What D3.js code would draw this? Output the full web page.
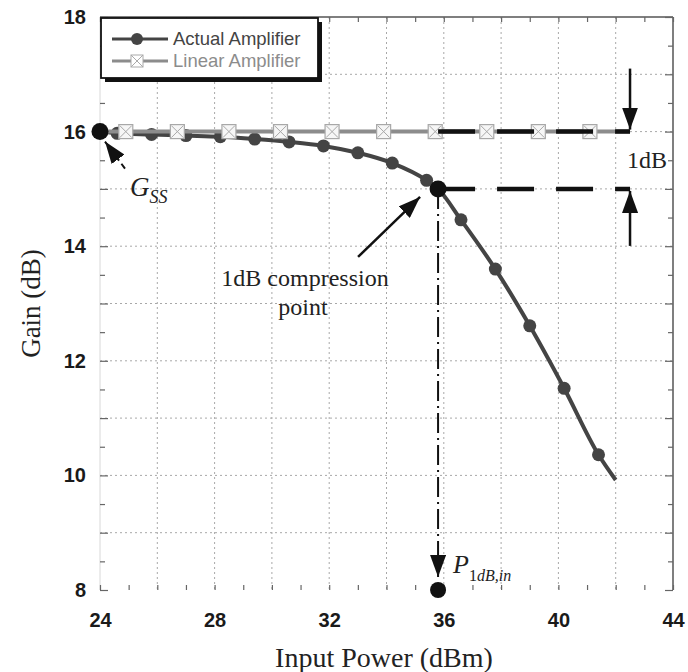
<!DOCTYPE html>
<html>
<head>
<meta charset="utf-8">
<script src="https://cdn.jsdelivr.net/npm/d3@7"></script>
<style>
  html, body { margin: 0; padding: 0; background: #fff; }
  svg { display: block; }
</style>
</head>
<body>
<svg id="chart" width="688" height="672"></svg>
<script>
// Amplifier gain versus input power: actual (compressing) vs ideal linear amplifier
const actualPower = [24.6, 25.8, 27.0, 28.2, 29.4, 30.6, 31.8, 33.0, 34.2, 35.4, 36.6, 37.8, 39.0, 40.2, 41.4];
const actualGain  = [15.97, 15.95, 15.93, 15.91, 15.87, 15.82, 15.75, 15.63, 15.45, 15.15, 14.46, 13.60, 12.61, 11.52, 10.36];
const actualLineStart = [24, 16.0];
const actualLineEnd   = [42.0, 9.92];

const linearPower = [24.9, 26.7, 28.5, 30.3, 32.1, 33.9, 35.7, 37.5, 39.3, 41.1];
const linearGain  = [16, 16, 16, 16, 16, 16, 16, 16, 16, 16];
const linearSpan  = [24, 42.5];

const smallSignalGain = 16;     // G_SS
const p1dBPower = 35.8;         // input 1 dB compression point
const p1dBGain = 15;
const refLineEnd = 42.5;

const xTickLabels = [24, 28, 32, 36, 40, 44];
const yTickLabels = [8, 10, 12, 14, 16, 18];
const xGridValues = [26, 28, 30, 32, 34, 36, 38, 40, 42];
const yGridValues = [9, 10, 11, 12, 13, 14, 15, 16, 17];

const svg = d3.select("#chart");
const x = d3.scaleLinear().domain([24, 44]).range([100, 673]);
const y = d3.scaleLinear().domain([8, 18]).range([590, 17]);

const serif = "'Liberation Serif', 'Times New Roman', serif";
const sans = "'Liberation Sans', Arial, sans-serif";

// arrowhead
const defs = svg.append("defs");
defs.append("marker").attr("id", "headBig")
  .attr("viewBox", "0 0 10 10").attr("refX", 10).attr("refY", 5)
  .attr("markerWidth", 22).attr("markerHeight", 16).attr("markerUnits", "userSpaceOnUse")
  .attr("orient", "auto").attr("preserveAspectRatio", "none")
  .append("path").attr("d", "M0,0 L10,5 L0,10 Z").attr("fill", "#111");

// grid
const grid = svg.append("g").attr("stroke", "#a8a8a8").attr("stroke-width", 1)
  .attr("stroke-dasharray", "2,3");
grid.selectAll(".vg").data(xGridValues).join("line")
  .attr("x1", d => x(d)).attr("x2", d => x(d)).attr("y1", y(18)).attr("y2", y(8));
grid.selectAll(".hg").data(yGridValues).join("line")
  .attr("x1", x(24)).attr("x2", x(44)).attr("y1", d => y(d)).attr("y2", d => y(d));

// frame
svg.append("line").attr("x1", x(24)).attr("x2", x(24)).attr("y1", y(18)).attr("y2", y(8))
  .attr("stroke", "#d8d8d8").attr("stroke-width", 1);
svg.append("line").attr("x1", x(24)).attr("x2", x(44)).attr("y1", y(18)).attr("y2", y(18))
  .attr("stroke", "#555").attr("stroke-width", 1.5);
svg.append("line").attr("x1", x(44)).attr("x2", x(44)).attr("y1", y(18)).attr("y2", y(8))
  .attr("stroke", "#555").attr("stroke-width", 1.5);

// inward ticks via d3 axes
const yTicksAll = d3.range(8, 18.01, 0.5);
const xTicksAll = d3.range(24, 44.01, 1);
const styleAxis = g => {
  g.select(".domain").remove();
  g.selectAll(".tick line").attr("stroke", "#666").attr("stroke-width", 1.2);
  g.selectAll("text").remove();
};
svg.append("g").attr("transform", `translate(${x(24)},0)`)
  .call(d3.axisRight(y).tickValues(yTicksAll).tickSize(6)).call(styleAxis)
  .selectAll(".tick line").attr("x2", d => Number.isInteger(d) ? 8 : 5);
svg.append("g").attr("transform", `translate(${x(44)},0)`)
  .call(d3.axisLeft(y).tickValues(yTicksAll).tickSize(6)).call(styleAxis)
  .selectAll(".tick line").attr("x2", d => Number.isInteger(d) ? -8 : -5);
svg.append("g").attr("transform", `translate(0,${y(8)})`)
  .call(d3.axisTop(x).tickValues(xTicksAll).tickSize(5)).call(styleAxis);
svg.append("g").attr("transform", `translate(0,${y(18)})`)
  .call(d3.axisBottom(x).tickValues(xTicksAll).tickSize(5)).call(styleAxis);

// tick labels
svg.append("g").attr("transform", `translate(${x(24)},0)`)
  .call(d3.axisLeft(y).tickValues(yTickLabels).tickSize(0).tickPadding(14).tickFormat(d3.format("d")))
  .call(g => g.select(".domain").remove())
  .selectAll("text").attr("font-family", sans).attr("font-weight", "bold")
  .attr("font-size", 20).attr("fill", "#1a1a1a");
svg.append("g").attr("transform", `translate(0,${y(8)})`)
  .call(d3.axisBottom(x).tickValues(xTickLabels).tickSize(0).tickPadding(23).tickFormat(d3.format("d")))
  .call(g => g.select(".domain").remove())
  .selectAll("text").attr("font-family", sans).attr("font-weight", "bold")
  .attr("font-size", 20).attr("fill", "#1a1a1a");

// axis titles
svg.append("text").attr("x", 384).attr("y", 667).attr("text-anchor", "middle")
  .attr("font-family", serif).attr("font-size", 28).attr("fill", "#222")
  .text("Input Power (dBm)");
svg.append("text").attr("transform", `translate(40,${(y(8) + y(18)) / 2}) rotate(-90)`)
  .attr("text-anchor", "middle")
  .attr("font-family", serif).attr("font-size", 27).attr("fill", "#222")
  .text("Gain (dB)");

// actual amplifier
const actualPts = [actualLineStart].concat(actualPower.map((p, i) => [p, actualGain[i]]));
actualPts.splice(11, 0, [p1dBPower, p1dBGain]);
actualPts.push(actualLineEnd);
const line = d3.line().x(d => x(d[0])).y(d => y(d[1])).curve(d3.curveMonotoneX);
svg.append("path").attr("d", line(actualPts)).attr("fill", "none")
  .attr("stroke", "#444").attr("stroke-width", 4);
svg.append("g").selectAll("circle").data(actualPower).join("circle")
  .attr("cx", d => x(d)).attr("cy", (d, i) => y(actualGain[i])).attr("r", 6.5)
  .attr("fill", "#444");

// linear amplifier
svg.append("line").attr("x1", x(linearSpan[0])).attr("x2", x(linearSpan[1]))
  .attr("y1", y(smallSignalGain)).attr("y2", y(smallSignalGain))
  .attr("stroke", "#8c8c8c").attr("stroke-width", 4);
const sq = svg.append("g").selectAll("g").data(linearPower).join("g")
  .attr("transform", (d, i) => `translate(${x(d)},${y(linearGain[i])})`);
sq.append("rect").attr("x", -7).attr("y", -7).attr("width", 14).attr("height", 14)
  .attr("fill", "#f6f6f6").attr("stroke", "#a8a8a8").attr("stroke-width", 1.2);
sq.append("path").attr("d", "M-6,-6 L6,6 M6,-6 L-6,6").attr("stroke", "#a8a8a8").attr("stroke-width", 1);

// reference lines at G_SS and G_SS - 1 dB
[smallSignalGain, p1dBGain].forEach(g => {
  svg.append("line").attr("x1", x(p1dBPower)).attr("x2", x(refLineEnd))
    .attr("y1", y(g)).attr("y2", y(g))
    .attr("stroke", "#111").attr("stroke-width", 4.5).attr("stroke-dasharray", "37,22");
});

// 1 dB arrows
svg.append("line").attr("x1", x(refLineEnd)).attr("x2", x(refLineEnd))
  .attr("y1", y(smallSignalGain) - 63).attr("y2", y(smallSignalGain) - 2)
  .attr("stroke", "#111").attr("stroke-width", 2.5).attr("marker-end", "url(#headBig)");
svg.append("line").attr("x1", x(refLineEnd)).attr("x2", x(refLineEnd))
  .attr("y1", y(p1dBGain) + 57).attr("y2", y(p1dBGain) + 2)
  .attr("stroke", "#111").attr("stroke-width", 2.5).attr("marker-end", "url(#headBig)");
svg.append("text").attr("x", x(refLineEnd) - 3).attr("y", y((smallSignalGain + p1dBGain) / 2) + 8)
  .attr("font-family", serif).attr("font-size", 24).attr("fill", "#222").text("1dB");

// vertical drop line to P1dB,in
svg.append("line").attr("x1", x(p1dBPower)).attr("x2", x(p1dBPower))
  .attr("y1", y(p1dBGain)).attr("y2", y(8) - 13)
  .attr("stroke", "#111").attr("stroke-width", 2)
  .attr("stroke-dasharray", "20,5,2,5").attr("marker-end", "url(#headBig)");
svg.append("circle").attr("cx", x(p1dBPower)).attr("cy", y(8)).attr("r", 8).attr("fill", "#111");

// G_SS and compression point markers
svg.append("circle").attr("cx", x(24)).attr("cy", y(smallSignalGain)).attr("r", 8.5).attr("fill", "#111");
svg.append("circle").attr("cx", x(p1dBPower)).attr("cy", y(p1dBGain)).attr("r", 8.5).attr("fill", "#111");

// G_SS annotation
svg.append("line").attr("x1", x(24) + 25).attr("y1", y(smallSignalGain) + 37)
  .attr("x2", x(24) + 5).attr("y2", y(smallSignalGain) + 10)
  .attr("stroke", "#111").attr("stroke-width", 2).attr("stroke-dasharray", "6,4")
  .attr("marker-end", "url(#headBig)");
const gss = svg.append("text").attr("x", x(24) + 30).attr("y", y(smallSignalGain) + 64)
  .attr("font-family", serif).attr("font-style", "italic").attr("font-size", 27).attr("fill", "#222");
gss.append("tspan").text("G");
gss.append("tspan").attr("dy", 7).attr("font-size", 18).text("SS");

// compression point annotation
svg.append("line").attr("x1", x(p1dBPower) - 80).attr("y1", y(p1dBGain) + 68)
  .attr("x2", x(p1dBPower) - 18).attr("y2", y(p1dBGain) + 8)
  .attr("stroke", "#111").attr("stroke-width", 2.5).attr("marker-end", "url(#headBig)");
svg.append("text").attr("x", 305).attr("y", 286).attr("text-anchor", "middle")
  .attr("font-family", serif).attr("font-size", 24).attr("fill", "#222").text("1dB compression");
svg.append("text").attr("x", 303).attr("y", 315).attr("text-anchor", "middle")
  .attr("font-family", serif).attr("font-size", 24).attr("fill", "#222").text("point");

// P1dB,in label
const pl = svg.append("text").attr("x", x(p1dBPower) + 15).attr("y", y(8) - 17)
  .attr("font-family", serif).attr("font-size", 26).attr("fill", "#222");
pl.append("tspan").attr("font-style", "italic").text("P");
pl.append("tspan").attr("dy", 8).attr("font-size", 16).text("1");
pl.append("tspan").attr("font-size", 16).attr("font-style", "italic").text("dB,in");

// legend
const lg = svg.append("g");
lg.append("rect").attr("x", 105).attr("y", 22).attr("width", 217).attr("height", 60).attr("fill", "#111");
lg.append("rect").attr("x", 101).attr("y", 18).attr("width", 217).attr("height", 60)
  .attr("fill", "#fff").attr("stroke", "#111").attr("stroke-width", 1.8);
const legendRows = [
  { name: "Actual Amplifier", color: "#444", marker: "circle" },
  { name: "Linear Amplifier", color: "#8c8c8c", marker: "square" }
];
legendRows.forEach((r, i) => {
  const cy = 39 + i * 22;
  lg.append("line").attr("x1", 112).attr("x2", 168).attr("y1", cy).attr("y2", cy)
    .attr("stroke", r.color).attr("stroke-width", 3);
  if (r.marker === "circle") {
    lg.append("circle").attr("cx", 137).attr("cy", cy).attr("r", 6).attr("fill", r.color);
  } else {
    lg.append("rect").attr("x", 131).attr("y", cy - 6).attr("width", 12).attr("height", 12)
      .attr("fill", "#fff").attr("stroke", "#aaa");
    lg.append("path").attr("d", `M131,${cy - 6} L143,${cy + 6} M143,${cy - 6} L131,${cy + 6}`)
      .attr("stroke", "#aaa");
  }
  lg.append("text").attr("x", 173).attr("y", cy + 6).attr("font-family", sans)
    .attr("font-size", 18.5).attr("fill", r.color).text(r.name);
});
</script>
</body>
</html>
